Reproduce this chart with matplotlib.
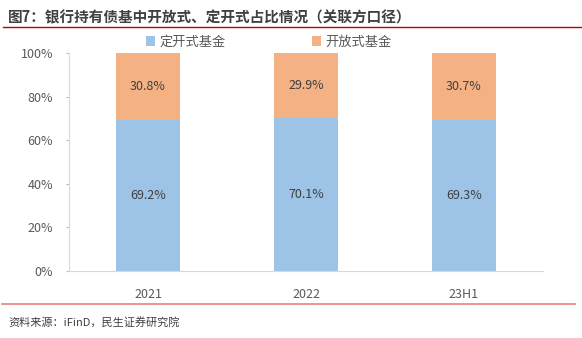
import matplotlib.pyplot as plt
from matplotlib.lines import Line2D
from matplotlib.ticker import PercentFormatter

plt.rcParams['font.family'] = ['Noto Sans CJK SC', 'DejaVu Sans']

## Data ##
categories = ['2021', '2022', '23H1']
closed_end = [69.2, 70.1, 69.3]   # 定开式基金
open_end = [30.8, 29.9, 30.7]     # 开放式基金

blue = '#9DC3E6'
orange = '#F4B183'
grey = '#595959'

fig = plt.figure(figsize=(5.82, 3.38), dpi=100)
ax = fig.add_axes([69/582, 1-271/338, (543-69)/582, (271-53)/338])

x = range(len(categories))
ax.bar(x, closed_end, width=0.4, color=blue, label='定开式基金')
ax.bar(x, open_end, width=0.4, bottom=closed_end, color=orange, label='开放式基金')

for i in x:
    ax.text(i, closed_end[i] / 2, f'{closed_end[i]:.1f}%', ha='center', va='center',
            fontsize=9, color='#404040')
    ax.text(i, closed_end[i] + open_end[i] / 2, f'{open_end[i]:.1f}%', ha='center',
            va='center', fontsize=9, color='#404040')

ax.set_xlim(-0.5, 2.5)
ax.set_ylim(0, 100)
ax.set_yticks([0, 20, 40, 60, 80, 100])
ax.yaxis.set_major_formatter(PercentFormatter(decimals=0))
ax.set_xticks(list(x))
ax.set_xticklabels(categories)
ax.tick_params(axis='y', colors='#BFBFBF', labelcolor=grey, labelsize=9, length=2.5, pad=9)
ax.tick_params(axis='x', length=0, labelcolor=grey, labelsize=9, pad=12)
for s in ['top', 'right']:
    ax.spines[s].set_visible(False)
ax.spines['left'].set_color('#D9D9D9')
ax.spines['bottom'].set_color('#D9D9D9')

ax.legend(loc='center left', bbox_to_anchor=(146/582, 1-42/338),
          bbox_transform=fig.transFigure, ncol=2, frameon=False,
          fontsize=9.5, handlelength=0.7, handleheight=0.7, handletextpad=0.35,
          columnspacing=6.5, labelcolor=grey, borderpad=0, borderaxespad=0)

fig.text(8/582, 1-17/338, '图7：银行持有债基中开放式、定开式占比情况（关联方口径）',
         fontsize=10.5, fontweight='bold', color='#404040', va='center')
fig.add_artist(Line2D([3/582, 1], [1-27/338, 1-27/338], color='#C00000', lw=1))
fig.add_artist(Line2D([2/582, 575/582], [1-304/338, 1-304/338], color='#E88080', lw=1.2))
fig.text(8/582, 1-322/338, '资料来源：iFinD，民生证券研究院', fontsize=8, color='#404040',
         va='center')

fig.savefig('out.png', dpi=100)
